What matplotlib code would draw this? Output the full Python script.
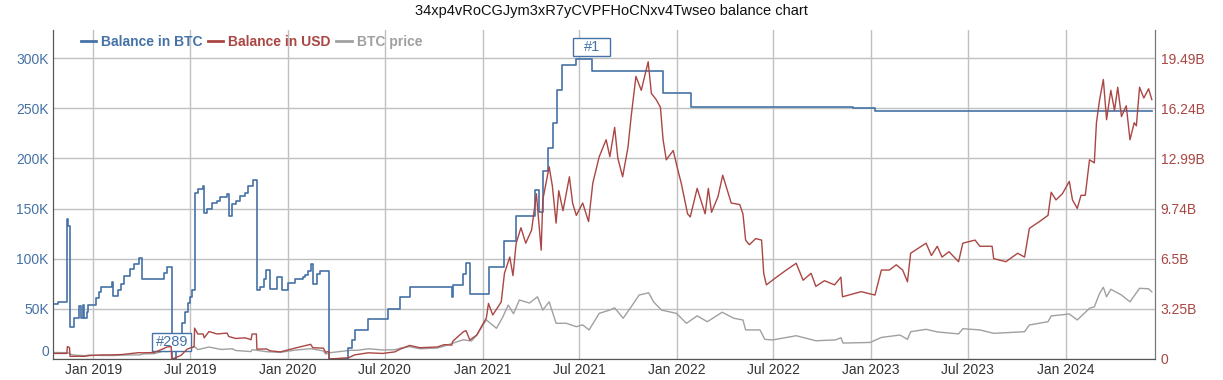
import matplotlib
matplotlib.use('Agg')
import matplotlib.pyplot as plt
import matplotlib.dates as mdates
from matplotlib.path import Path
import numpy as np
import pandas as pd

plt.rcParams['font.family'] = ['Liberation Sans', 'DejaVu Sans']

title = '34xp4vRoCGJym3xR7yCVPFHoCNxv4Twseo balance chart'

# balance in BTC (thousands), step series
btc_dates = ['2018-10-18', '2018-10-26', '2018-11-13', '2018-11-15', '2018-11-18', '2018-11-26',
             '2018-12-05', '2018-12-08', '2018-12-12', '2018-12-14', '2018-12-19', '2018-12-21',
             '2019-01-05', '2019-01-11', '2019-01-15', '2019-02-05', '2019-02-06', '2019-02-16',
             '2019-02-22', '2019-02-28', '2019-03-11', '2019-03-18', '2019-03-27', '2019-04-02',
             '2019-05-14', '2019-05-19', '2019-05-28', '2019-06-01', '2019-06-05', '2019-06-09',
             '2019-06-16', '2019-06-22', '2019-06-28', '2019-07-02', '2019-07-06', '2019-07-10',
             '2019-07-17', '2019-07-26', '2019-07-28', '2019-08-02', '2019-08-11', '2019-08-21',
             '2019-08-27', '2019-09-09', '2019-09-12', '2019-09-18', '2019-09-26', '2019-10-04',
             '2019-10-13', '2019-10-19', '2019-10-28', '2019-11-04', '2019-11-10', '2019-11-17',
             '2019-11-22', '2019-11-29', '2019-12-11', '2019-12-22', '2020-01-02', '2020-01-14',
             '2020-01-29', '2020-02-02', '2020-02-08', '2020-02-14', '2020-02-17', '2020-02-24',
             '2020-03-02', '2020-03-19', '2020-04-24', '2020-04-30', '2020-05-06', '2020-05-31',
             '2020-07-08', '2020-07-29', '2020-08-18', '2020-11-04', '2020-11-06', '2020-11-26',
             '2020-12-01', '2020-12-08', '2021-01-13', '2021-02-10', '2021-03-05', '2021-04-09',
             '2021-04-17', '2021-04-24', '2021-05-04', '2021-05-13', '2021-05-20', '2021-05-30',
             '2021-06-25', '2021-07-25', '2021-12-06', '2022-01-27', '2022-11-27', '2023-01-08',
             '2024-06-11']
btc_k = [55, 57, 140, 133, 32, 41,
         53, 41, 54, 41, 47, 54,
         61, 67, 72, 77, 63, 69,
         75, 83, 90, 95, 101, 80,
         86, 92, 0, 0, 10, 20,
         36, 47, 56, 62, 69, 165,
         169, 172, 146, 150, 156, 158,
         162, 164, 143, 155, 158, 163,
         165, 172, 178, 69, 72, 80,
         89, 70, 82, 69, 76, 80,
         82, 84, 88, 95, 75, 85,
         88, 0, 11, 19, 29, 40,
         50, 62, 72, 62, 74, 85,
         96, 65, 92, 118, 143, 168,
         147, 187, 210, 235, 268, 293,
         299, 287, 265, 251.5, 250, 247.5,
         247.5]

# BTC price (thousand USD)
price_dates = ['2018-10-18', '2018-11-13', '2018-11-20', '2018-11-25', '2018-12-15', '2018-12-24',
               '2019-01-10', '2019-02-07', '2019-02-24', '2019-03-30', '2019-04-03', '2019-04-25',
               '2019-05-14', '2019-05-17', '2019-06-01', '2019-06-15', '2019-06-26', '2019-07-02',
               '2019-07-10', '2019-07-16', '2019-08-06', '2019-08-29', '2019-09-19', '2019-09-25',
               '2019-10-24', '2019-10-26', '2019-11-22', '2019-12-18', '2020-01-14', '2020-02-13',
               '2020-03-08', '2020-03-12', '2020-03-19', '2020-04-06', '2020-04-30', '2020-05-10',
               '2020-06-01', '2020-06-27', '2020-07-20', '2020-08-02', '2020-08-17', '2020-09-05',
               '2020-10-08', '2020-10-21', '2020-11-05', '2020-11-25', '2020-12-11', '2020-12-21',
               '2021-01-08', '2021-01-27', '2021-02-08', '2021-02-18', '2021-02-28', '2021-03-11',
               '2021-03-30', '2021-04-14', '2021-04-24', '2021-05-06', '2021-05-19', '2021-06-07',
               '2021-06-26', '2021-07-08', '2021-07-20', '2021-08-08', '2021-08-28', '2021-09-06',
               '2021-09-22', '2021-10-07', '2021-10-22', '2021-11-09', '2021-11-18', '2021-12-03',
               '2021-12-31', '2022-01-19', '2022-02-08', '2022-02-27', '2022-03-27', '2022-04-18',
               '2022-05-05', '2022-05-10', '2022-06-06', '2022-06-15', '2022-06-30', '2022-08-13',
               '2022-09-19', '2022-10-26', '2022-11-05', '2022-11-09', '2022-12-30', '2023-01-20',
               '2023-02-24', '2023-03-10', '2023-03-16', '2023-04-14', '2023-05-05', '2023-06-14',
               '2023-06-22', '2023-07-24', '2023-08-19', '2023-10-16', '2023-10-25', '2023-11-29',
               '2023-12-05', '2024-01-08', '2024-01-23', '2024-02-15', '2024-02-24', '2024-03-05',
               '2024-03-12', '2024-03-18', '2024-03-26', '2024-04-15', '2024-05-01', '2024-05-19',
               '2024-06-05', '2024-06-11']
price_k = [6.5, 6.3, 4.6, 3.9, 3.3, 4.0,
           3.6, 3.4, 3.9, 4.1, 5.0, 5.3,
           8.0, 7.3, 8.6, 8.8, 12.9, 10.6,
           12.3, 9.4, 11.9, 9.5, 10.2, 8.5,
           7.4, 9.3, 7.3, 6.6, 8.8, 10.3,
           8.0, 4.9, 6.2, 7.3, 8.8, 8.6,
           10.2, 9.0, 9.2, 11.1, 12.3, 10.2,
           10.9, 12.9, 15.6, 19.1, 18.0, 23.8,
           39.0, 30.6, 42.0, 53.8, 45.1, 58.8,
           55.8, 62.0, 48.8, 57.0, 35.6, 35.6,
           32.2, 34.0, 29.0, 45.5, 48.8, 51.0,
           40.6, 52.0, 63.8, 66.0, 57.0, 48.8,
           45.5, 35.6, 43.0, 37.2, 46.6, 40.6,
           38.9, 29.0, 29.0, 19.6, 19.0, 23.2,
           18.2, 19.0, 21.2, 15.9, 16.5, 21.5,
           23.9, 19.6, 27.2, 29.6, 27.0, 25.0,
           30.2, 29.0, 25.6, 27.2, 33.9, 37.2,
           42.9, 44.9, 38.9, 50.5, 52.0, 65.5,
           71.5, 62.0, 69.5, 63.8, 57.0, 70.5,
           70.0, 67.0]

# balance in USD (billions)
usd_dates = ['2018-10-18', '2018-11-12', '2018-11-13', '2018-11-17', '2018-11-18', '2018-12-05',
             '2018-12-15', '2018-12-24', '2019-01-15', '2019-02-05', '2019-02-24', '2019-03-11',
             '2019-03-27', '2019-04-03', '2019-04-25', '2019-05-14', '2019-05-19', '2019-05-27',
             '2019-05-28', '2019-06-05', '2019-06-15', '2019-06-26', '2019-07-09', '2019-07-10',
             '2019-07-16', '2019-07-26', '2019-07-28', '2019-08-06', '2019-08-21', '2019-09-09',
             '2019-09-12', '2019-09-25', '2019-10-13', '2019-10-24', '2019-10-26', '2019-11-03',
             '2019-11-04', '2019-11-22', '2019-11-29', '2019-12-18', '2020-01-14', '2020-02-13',
             '2020-02-17', '2020-03-08', '2020-03-12', '2020-03-18', '2020-03-19', '2020-04-24',
             '2020-05-06', '2020-05-31', '2020-06-27', '2020-07-20', '2020-07-29', '2020-08-17',
             '2020-09-05', '2020-10-08', '2020-10-21', '2020-11-04', '2020-11-06', '2020-11-26',
             '2020-12-01', '2020-12-08', '2020-12-21', '2021-01-02', '2021-01-08', '2021-01-12',
             '2021-01-20', '2021-02-05', '2021-02-11', '2021-02-21', '2021-02-27', '2021-03-05',
             '2021-03-14', '2021-03-23', '2021-04-03', '2021-04-12', '2021-04-21', '2021-04-24',
             '2021-05-06', '2021-05-12', '2021-05-19', '2021-05-24', '2021-06-01', '2021-06-13',
             '2021-06-19', '2021-06-26', '2021-07-08', '2021-07-19', '2021-07-27', '2021-08-08',
             '2021-08-21', '2021-08-28', '2021-09-06', '2021-09-12', '2021-09-21', '2021-10-01',
             '2021-10-07', '2021-10-16', '2021-10-26', '2021-11-08', '2021-11-14', '2021-11-23',
             '2021-12-01', '2021-12-06', '2021-12-12', '2021-12-25', '2022-01-03', '2022-01-09',
             '2022-01-21', '2022-01-26', '2022-02-08', '2022-02-23', '2022-03-01', '2022-03-07',
             '2022-03-19', '2022-03-28', '2022-04-13', '2022-04-29', '2022-05-05', '2022-05-10',
             '2022-05-17', '2022-05-29', '2022-06-09', '2022-06-13', '2022-06-18', '2022-07-07',
             '2022-07-25', '2022-08-13', '2022-08-26', '2022-09-10', '2022-09-19', '2022-10-05',
             '2022-10-24', '2022-11-05', '2022-11-08', '2022-12-13', '2023-01-08', '2023-01-20',
             '2023-02-04', '2023-02-17', '2023-03-01', '2023-03-10', '2023-03-16', '2023-04-14',
             '2023-04-24', '2023-05-05', '2023-05-14', '2023-05-27', '2023-06-14', '2023-06-22',
             '2023-07-15', '2023-07-24', '2023-08-16', '2023-08-19', '2023-09-11', '2023-10-03',
             '2023-10-16', '2023-10-25', '2023-11-13', '2023-11-29', '2023-12-05', '2023-12-14',
             '2023-12-26', '2024-01-08', '2024-01-14', '2024-01-23', '2024-01-30', '2024-02-07',
             '2024-02-15', '2024-02-24', '2024-02-28', '2024-03-05', '2024-03-12', '2024-03-18',
             '2024-03-26', '2024-04-02', '2024-04-08', '2024-04-15', '2024-04-24', '2024-05-01',
             '2024-05-09', '2024-05-13', '2024-05-19', '2024-05-27', '2024-06-05', '2024-06-11']
usd_b = [0.36, 0.36, 0.80, 0.75, 0.17, 0.18,
         0.17, 0.22, 0.26, 0.27, 0.29, 0.35,
         0.41, 0.40, 0.42, 0.69, 0.78, 0.80,
         0.0, 0.09, 0.25, 0.64, 0.80, 2.0,
         1.62, 1.62, 1.37, 1.78, 1.62, 1.68,
         1.46, 1.33, 1.37, 1.25, 1.62, 1.62,
         0.64, 0.65, 0.53, 0.46, 0.70, 0.95,
         0.73, 0.70, 0.43, 0.50, 0.0, 0.08,
         0.27, 0.40, 0.36, 0.46, 0.62, 0.88,
         0.73, 0.78, 0.93, 0.90, 1.15, 1.77,
         1.83, 1.23, 1.55, 2.3, 2.65, 3.6,
         2.85, 3.7, 5.55, 6.6, 5.4, 7.5,
         8.5, 7.5, 8.35, 10.7, 7.05, 10.3,
         12.45, 11.2, 8.8, 10.9, 9.6, 11.8,
         10.1, 9.3, 10.1, 8.9, 11.4, 13.1,
         14.2, 13.1, 15.0, 13.0, 11.8, 13.7,
         15.7, 18.3, 17.4, 19.25, 17.2, 16.8,
         16.3, 14.2, 12.9, 13.5, 12.2, 11.4,
         9.4, 9.2, 11.05, 9.4, 11.05, 9.5,
         10.5, 11.9, 10.1, 10.0, 9.4, 7.7,
         7.4, 7.8, 7.7, 5.55, 4.8, 5.3,
         5.75, 6.2, 5.1, 5.55, 4.7, 5.07,
         4.8, 5.3, 4.03, 4.36, 4.14, 5.76,
         5.76, 6.1, 5.76, 5.0, 6.85, 7.5,
         6.7, 7.3, 6.6, 6.95, 6.3, 7.5,
         7.7, 7.3, 7.3, 6.5, 6.3, 6.85,
         6.6, 8.46, 8.9, 9.3, 10.8, 10.3,
         10.7, 11.5, 10.3, 9.75, 10.6, 10.6,
         12.9, 12.7, 15.3, 16.8, 18.1, 15.5,
         17.4, 16.1, 17.6, 15.7, 16.4, 14.2,
         15.3, 15.1, 17.6, 16.9, 17.5, 16.8]

left_ticks = [0, 50, 100, 150, 200, 250, 300]
left_labels = ['0', '50K', '100K', '150K', '200K', '250K', '300K']
right_ticks = [0, 3.2478, 6.4956, 9.7434, 12.9912, 16.239, 19.4868]
right_labels = ['0', '3.25B', '6.5B', '9.74B', '12.99B', '16.24B', '19.49B']

blue = '#4572A7'
red = '#AA4643'
grey = '#A0A0A0'

fig = plt.figure(figsize=(12.23, 3.8), dpi=100)
ax = fig.add_axes([53 / 1223, 21 / 380, 1102 / 1223, 329 / 380])
ax2 = ax.twinx()

bd = pd.to_datetime(btc_dates)
ax.plot(pd.to_datetime(price_dates), price_k, color=grey, lw=1.0, label='BTC price', zorder=2)
ax.plot(bd, btc_k, color=blue, lw=1.2, drawstyle='steps-post', label='Balance in BTC', zorder=3)
ax2.plot(pd.to_datetime(usd_dates), usd_b, color=red, lw=1.0, label='Balance in USD')

ax.set_ylim(0, 328)
ax2.set_ylim(0, 328 * 3.2478 / 50)
ax.set_xlim(pd.Timestamp('2018-10-17'), pd.Timestamp('2024-06-17'))

ax.set_yticks(left_ticks)
ax.set_yticklabels(left_labels)
ax2.set_yticks(right_ticks)
ax2.set_yticklabels(right_labels)
ax.get_yticklabels()[0].set_verticalalignment('bottom')

ax.xaxis.set_major_locator(mdates.MonthLocator(bymonth=[1, 7]))
ax.xaxis.set_major_formatter(mdates.DateFormatter('%b %Y'))

ax.grid(True, color='#C0C0C0', lw=1)
ax.set_axisbelow(True)
ax.tick_params(axis='y', length=0, labelsize=10, labelcolor=blue, pad=3)
ax.tick_params(axis='x', length=0, labelsize=10, labelcolor='#333333', pad=3)
ax2.tick_params(axis='y', length=0, labelsize=10, labelcolor=red, pad=4)
for a in (ax, ax2):
    a.spines['top'].set_visible(False)
    a.spines['left'].set_color('#555555')
    a.spines['bottom'].set_color('#555555')
    a.spines['right'].set_color('#777777')


def flag_box(x0, y0, width, height, mutation_size):
    w = max(width + 6, 37)
    h = height + 4
    cx = x0 + width / 2
    cy = y0 + height / 2
    l, r = cx - w / 2, cx + w / 2
    b, t = cy - h / 2, cy + h / 2
    return Path([(l, b), (r, b), (r, t), (l, t), (l, b)], closed=True)


i_max = int(np.argmax(btc_k))
i_min = int(np.argmin(btc_k))
flags = [('#1', bd[i_max + 1], btc_k[i_max], 8.5),
         ('#289', bd[i_min], btc_k[i_min], 12.5)]
for txt, x, y, dy in flags:
    ax.annotate(txt, xy=(x, y), xytext=(0, dy), textcoords='offset points',
                ha='center', va='center', fontsize=10.5, color=blue, zorder=6,
                bbox=dict(boxstyle=flag_box, fc='white', ec=blue, lw=1))

h1, l1 = ax.get_legend_handles_labels()
h2, l2 = ax2.get_legend_handles_labels()
handles = [h1[1], h2[0], h1[0]]
labels = [l1[1], l2[0], l1[0]]
leg = fig.legend(handles, labels, loc='center left', bbox_to_anchor=(81 / 1223, 1 - 42 / 380),
                 ncol=3, frameon=False, handlelength=1.1, handletextpad=0.35,
                 columnspacing=0.4, borderpad=0, borderaxespad=0,
                 prop={'weight': 'bold', 'size': 10}, labelcolor='linecolor')
for line in leg.get_lines():
    line.set_linewidth(2)

fig.text(0.5, 1 - 11 / 380, title, ha='center', va='center', fontsize=10.5, color='#111111')

fig.savefig('out.png', dpi=100)
